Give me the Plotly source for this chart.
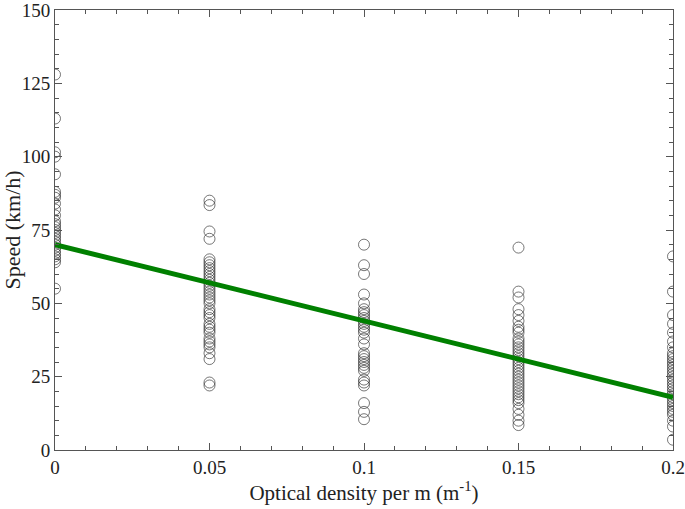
import plotly.graph_objects as go

# Observed speeds (km/h) at each optical density level (m^-1)
speed_000 = [128, 113, 101.5, 100, 94, 88, 87, 86, 84, 82, 80, 78, 77, 76, 75, 74, 73, 72,
             71, 70, 69, 68, 67, 66, 65, 64, 55]
speed_005 = [85, 83.5, 74.5, 72, 65, 64, 63, 62, 61, 60, 59, 58, 57, 56, 55, 54, 53, 52, 51,
             50, 48, 47, 46, 45, 43, 42, 41, 40, 38, 37, 36, 35, 33, 31, 23, 22]
speed_010 = [70, 63, 60, 53, 50, 48, 47, 46, 45, 44, 43, 42, 41, 40, 38, 36, 33, 32, 31, 30,
             29, 28, 27, 24, 23, 22, 16, 13, 10.5]
speed_015 = [69, 54, 52, 48, 46, 44, 42, 41, 40, 38, 37, 36, 35, 34, 33, 32, 31, 30, 29, 28,
             27, 26, 25, 24, 23, 22, 21, 20, 19, 18, 17, 16, 14, 12, 10, 8.5]
speed_020 = [66, 54, 46, 43, 40, 37, 35, 33, 32, 31, 30, 29, 28, 27, 26, 25, 24, 23, 22, 21,
             20, 19, 18, 17, 16, 15, 14, 13, 12, 10, 8, 3.5]

density_levels = [0.0, 0.05, 0.1, 0.15, 0.2]
density_labels = ["0", "0.05", "0.1", "0.15", "0.2"]
speed_groups = [speed_000, speed_005, speed_010, speed_015, speed_020]

# Fitted regression line endpoints
line_x = [0.0, 0.2]
line_y = [70, 18]

xs, ys = [], []
for d, grp in zip(density_levels, speed_groups):
    xs += [d] * len(grp)
    ys += grp

font_family = "Liberation Serif, Times New Roman, serif"

fig = go.Figure()
fig.add_trace(go.Scatter(
    x=xs, y=ys, mode="markers",
    marker=dict(symbol="circle-open", size=11, color="rgba(30,30,30,0.6)",
                line=dict(width=1, color="rgba(30,30,30,0.6)")),
    showlegend=False, hoverinfo="x+y",
))
fig.add_trace(go.Scatter(
    x=line_x, y=line_y, mode="lines",
    line=dict(color="rgb(0,128,0)", width=5),
    showlegend=False,
))

axis_common = dict(
    showgrid=False, zeroline=False, showline=True, linecolor="#555", linewidth=1,
    mirror="allticks", ticks="inside", ticklen=7, tickcolor="#555", tickwidth=1,
    tickfont=dict(family=font_family, size=19, color="#222"),
    automargin=False, ticklabeloverflow="allow",
)

fig.update_xaxes(
    range=[0, 0.2], tickmode="array", tickvals=density_levels, ticktext=density_labels,
    minor=dict(ticks="inside", dtick=0.01, ticklen=4, tickcolor="#555"),
    title=dict(text="Optical density per m (m<sup>-1</sup>)",
               font=dict(family=font_family, size=21, color="#222"), standoff=8),
    **axis_common,
)
fig.update_yaxes(
    range=[0, 150], dtick=25,
    minor=dict(ticks="inside", dtick=5, ticklen=4, tickcolor="#555"),
    title=dict(text="Speed (km/h)",
               font=dict(family=font_family, size=22, color="#222"), standoff=4),
    **axis_common,
)

fig.update_layout(
    width=685, height=509,
    margin=dict(l=55, r=12, t=10, b=59),
    plot_bgcolor="white", paper_bgcolor="white",
    font=dict(family=font_family),
)

fig.write_html("out.html", config={"displayModeBar": False},
               post_script="document.body.style.margin='0';")
